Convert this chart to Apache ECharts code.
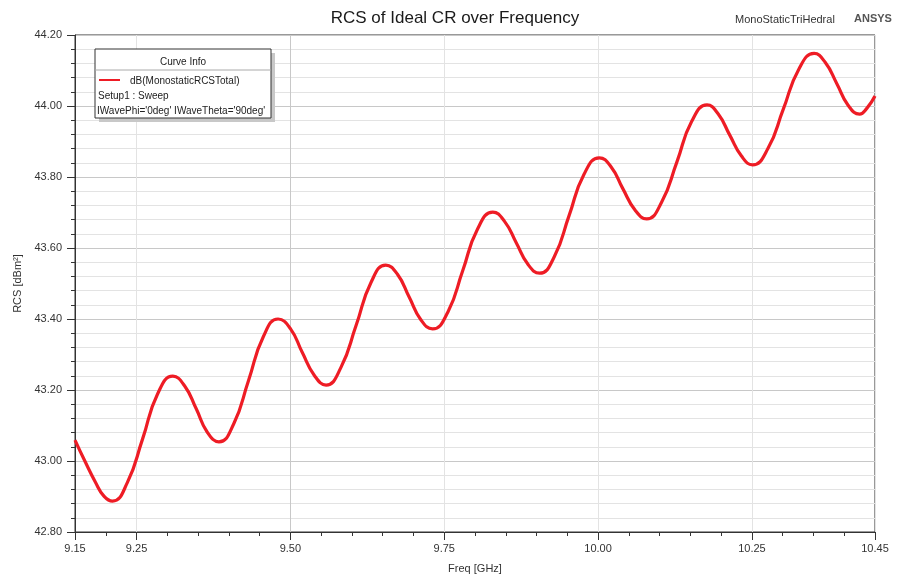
<!DOCTYPE html>
<html>
<head>
<meta charset="utf-8">
<title>RCS of Ideal CR over Frequency</title>
<script src="https://cdn.jsdelivr.net/npm/echarts@6/dist/echarts.min.js"></script>
<style>
    html, body { margin: 0; padding: 0; background: #fff; }
    #chart { width: 898px; height: 575px; }
</style>
</head>
<body>
<div id="chart"></div>
<script>
// frequency [GHz] and RCS [dBm^2]
var freq = [
    9.150, 9.166, 9.183, 9.197, 9.211, 9.235, 9.260, 9.284, 9.309, 9.328,
    9.347, 9.365, 9.384, 9.408, 9.432, 9.456, 9.480, 9.500, 9.519, 9.539,
    9.558, 9.582, 9.607, 9.631, 9.655, 9.674, 9.693, 9.712, 9.731, 9.756,
    9.780, 9.804, 9.829, 9.848, 9.867, 9.886, 9.905, 9.929, 9.953, 9.977,
    10.002, 10.021, 10.040, 10.060, 10.079, 10.103, 10.128, 10.152, 10.177, 10.195,
    10.214, 10.233, 10.251, 10.276, 10.301, 10.326, 10.351, 10.369, 10.388, 10.406,
    10.425, 10.437, 10.450
];
var rcs = [
    43.059, 43.000, 42.941, 42.901, 42.887, 42.939, 43.063, 43.188, 43.239, 43.212,
    43.147, 43.081, 43.054, 43.105, 43.227, 43.350, 43.400, 43.373, 43.307, 43.241,
    43.214, 43.263, 43.383, 43.503, 43.552, 43.526, 43.462, 43.398, 43.372, 43.420,
    43.536, 43.653, 43.701, 43.675, 43.615, 43.554, 43.529, 43.576, 43.692, 43.807,
    43.854, 43.829, 43.768, 43.707, 43.682, 43.728, 43.842, 43.956, 44.003, 43.978,
    43.918, 43.859, 43.834, 43.880, 43.991, 44.103, 44.148, 44.123, 44.063, 44.003,
    43.977, 43.994, 44.028
];
var xLabels = [9.15, 9.25, 9.50, 9.75, 10.00, 10.25, 10.45];
var legendLines = ['dB(MonostaticRCSTotal)', 'Setup1 : Sweep', "IWavePhi='0deg' IWaveTheta='90deg'"];

var font = '"Liberation Sans", Arial, sans-serif';
var major = '#c8c8c8', minor = '#e3e3e3';

var chart = echarts.init(document.getElementById('chart'));
var points = freq.map(function(f, i) { return [f, rcs[i]]; });

var option = {
    animation: false,
    textStyle: { fontFamily: font },
    grid: {
        left: 75, right: 23, top: 35, bottom: 43,
        outerBoundsMode: 'none',
        show: true, borderColor: '#333', borderWidth: 1
    },
    title: [{
        text: 'RCS of Ideal CR over Frequency',
        left: 450, top: 5, textAlign: 'center',
        textStyle: { fontSize: 17, fontWeight: 'normal', color: '#1a1a1a', fontFamily: font }
    }, {
        text: 'MonoStaticTriHedral',
        left: 730, top: 9,
        textStyle: { fontSize: 11, fontWeight: 'normal', color: '#333', fontFamily: font }
    }, {
        text: 'ANSYS',
        left: 849, top: 8,
        textStyle: { fontSize: 11, fontWeight: 'bold', color: '#555', fontFamily: font }
    }],
    xAxis: [{
        // labels + long ticks at the labelled values, grid every 0.05
        type: 'value', min: 9.15, max: 10.45, interval: 0.05,
        name: 'Freq [GHz]', nameLocation: 'middle', nameGap: 31,
        nameTextStyle: { fontSize: 11, color: '#333' },
        axisLine: { lineStyle: { color: '#333' } },
        axisTick: { length: 8, customValues: xLabels, lineStyle: { color: '#333' } },
        axisLabel: {
            customValues: xLabels, margin: 11, fontSize: 11, color: '#333',
            formatter: function(v) { return v.toFixed(2); }
        },
        splitLine: { show: true, lineStyle: { color: [minor, minor, major, minor, minor], width: 1 } }
    }, {
        // short ticks only
        type: 'value', min: 9.15, max: 10.45, interval: 0.05, position: 'bottom',
        axisLine: { show: false },
        axisTick: { length: 4, lineStyle: { color: '#333' } },
        axisLabel: { show: false },
        splitLine: { show: false }
    }],
    yAxis: {
        type: 'value', min: 42.8, max: 44.2, interval: 0.2,
        name: 'RCS [dBm²]', nameLocation: 'middle', nameGap: 45,
        nameTextStyle: { fontSize: 11, color: '#333' },
        axisLine: { show: true, lineStyle: { color: '#333' } },
        axisTick: { show: true, length: 8, lineStyle: { color: '#333' } },
        minorTick: { show: true, splitNumber: 5, length: 4, lineStyle: { color: '#333' } },
        axisLabel: {
            margin: 13, fontSize: 11, color: '#333',
            formatter: function(v) { return v.toFixed(2); }
        },
        splitLine: { lineStyle: { color: major } },
        minorSplitLine: { show: true, lineStyle: { color: minor } }
    },
    series: [{
        type: 'line',
        xAxisIndex: 0,
        data: points,
        smooth: 0.5,
        showSymbol: false,
        lineStyle: { color: '#ee1c25', width: 3.2 },
        z: 5
    }],
    graphic: [
        { type: 'rect', shape: { x: 99, y: 53, width: 176, height: 69 }, style: { fill: '#c8c8c8' }, z: 10 },
        { type: 'rect', shape: { x: 95, y: 49, width: 176, height: 69 }, style: { fill: '#fff', stroke: '#333', lineWidth: 1 }, z: 11 },
        { type: 'line', shape: { x1: 95, y1: 70, x2: 271, y2: 70 }, style: { stroke: '#aaa', lineWidth: 1 }, z: 12 },
        { type: 'text', x: 183, y: 62, style: { text: 'Curve Info', font: '10px ' + font, fill: '#222', align: 'center', verticalAlign: 'middle' }, z: 12 },
        { type: 'line', shape: { x1: 99, y1: 80, x2: 120, y2: 80 }, style: { stroke: '#ee1c25', lineWidth: 2 }, z: 12 },
        { type: 'text', x: 130, y: 81, style: { text: legendLines[0], font: '10px ' + font, fill: '#222', verticalAlign: 'middle' }, z: 12 },
        { type: 'text', x: 98, y: 96, style: { text: legendLines[1], font: '10px ' + font, fill: '#222', verticalAlign: 'middle' }, z: 12 },
        { type: 'text', x: 97, y: 111, style: { text: legendLines[2], font: '10px ' + font, fill: '#222', verticalAlign: 'middle' }, z: 12 }
    ]
};
chart.setOption(option);
</script>
</body>
</html>
